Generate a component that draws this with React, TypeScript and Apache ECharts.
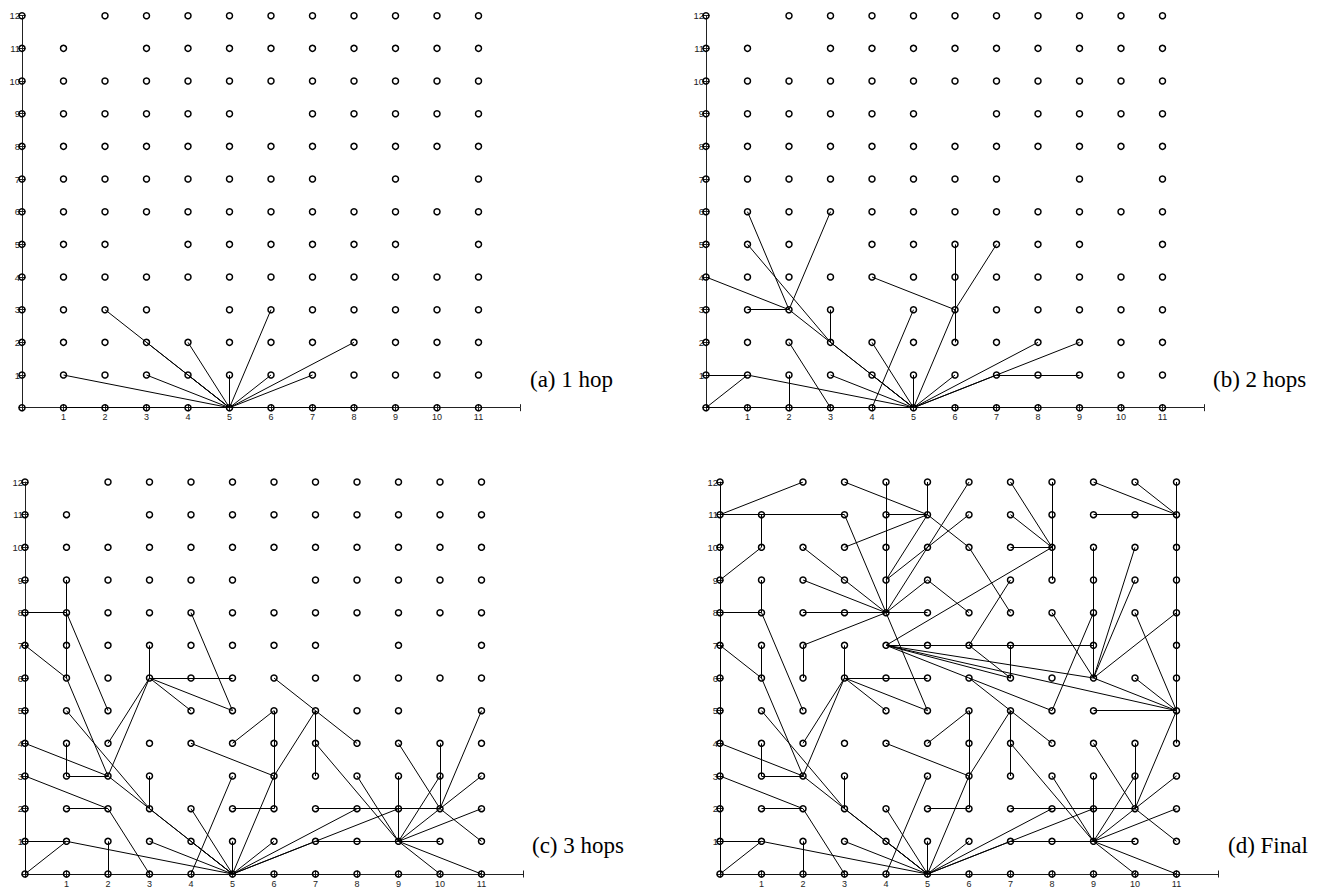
import React, { useEffect, useRef } from 'react';
import * as echarts from 'echarts';

// Grid points present, listed per row (index = y value), x columns present
const nodeRows: number[][] = [
  /* y=0  */ [0, 1, 2, 3, 4, 5, 6, 7, 8, 9, 10, 11],
  /* y=1  */ [0, 1, 2, 3, 4, 5, 6, 7, 8, 9, 10, 11],
  /* y=2  */ [0, 1, 2, 3, 4, 5, 6, 7, 8, 9, 10, 11],
  /* y=3  */ [0, 1, 2, 3, 5, 6, 7, 8, 9, 10, 11],
  /* y=4  */ [0, 1, 2, 3, 4, 5, 6, 7, 8, 9, 10, 11],
  /* y=5  */ [0, 1, 2, 4, 5, 6, 7, 8, 9, 11],
  /* y=6  */ [0, 1, 2, 3, 4, 5, 6, 7, 8, 9, 10, 11],
  /* y=7  */ [0, 1, 2, 3, 4, 5, 6, 7, 9, 11],
  /* y=8  */ [0, 1, 2, 3, 4, 5, 6, 7, 8, 9, 10, 11],
  /* y=9  */ [0, 1, 2, 3, 4, 5, 7, 8, 9, 10, 11],
  /* y=10 */ [0, 1, 2, 3, 4, 5, 6, 7, 8, 9, 10, 11],
  /* y=11 */ [0, 1, 3, 4, 5, 6, 7, 8, 9, 10, 11],
  /* y=12 */ [0, 2, 3, 4, 5, 6, 7, 8, 9, 10, 11],
];

const xTickLabels = ['1', '2', '3', '4', '5', '6', '7', '8', '9', '10', '11'];
const yTickLabels = ['1', '2', '3', '4', '5', '6', '7', '8', '9', '10', '11', '12'];

// Edges [x1, y1, x2, y2]
const edgesA: number[][] = [
  [5, 0, 1, 0], [5, 0, 8, 0],
  [5, 0, 1, 1], [5, 0, 2, 3], [5, 0, 3, 2], [5, 0, 4, 1], [5, 0, 3, 1],
  [5, 0, 4, 2], [5, 0, 5, 1], [5, 0, 6, 3], [5, 0, 6, 1], [5, 0, 7, 1], [5, 0, 8, 2],
];

const edgesB: number[][] = [
  [0, 0, 1, 0], [5, 0, 1, 0], [5, 0, 8, 0],
  [0, 0, 1, 1], [0, 1, 1, 1], [1, 1, 5, 0], [2, 0, 2, 1], [2, 2, 3, 0], [3, 1, 5, 0],
  [2, 3, 5, 0], [3, 2, 5, 0], [4, 1, 5, 0], [4, 2, 5, 0], [4, 0, 5, 3], [5, 1, 5, 0],
  [6, 1, 5, 0], [6, 3, 5, 0], [6, 5, 6, 3], [6, 4, 6, 3], [6, 3, 6, 2], [4, 4, 6, 3],
  [6, 3, 7, 5], [0, 4, 2, 3], [1, 3, 2, 3], [1, 6, 2, 3], [2, 3, 3, 6], [1, 5, 3, 2],
  [3, 2, 3, 3], [7, 1, 8, 1], [8, 1, 9, 1], [5, 0, 8, 2], [5, 0, 9, 2], [5, 0, 7, 1],
];

const edgesC: number[][] = [
  [0, 0, 1, 0], [5, 0, 1, 0], [5, 0, 8, 0], [0, 0, 0, 8],
  [0, 8, 1, 8], [1, 9, 1, 8], [1, 8, 1, 7], [1, 7, 1, 6], [1, 8, 2, 5], [4, 8, 5, 5],
  [3, 7, 3, 6], [0, 7, 1, 6], [3, 6, 5, 6], [3, 6, 4, 5], [3, 6, 5, 5], [3, 6, 2, 4],
  [3, 6, 2, 3], [1, 6, 2, 3], [1, 5, 3, 2], [0, 4, 2, 3], [1, 4, 1, 3], [1, 3, 2, 3],
  [3, 3, 3, 2], [0, 3, 2, 2], [1, 2, 2, 2], [2, 2, 3, 0], [0, 1, 1, 1], [0, 0, 1, 1],
  [1, 1, 5, 0], [2, 1, 2, 0], [3, 1, 5, 0], [2, 3, 5, 0], [3, 2, 5, 0], [4, 1, 5, 0],
  [4, 2, 5, 0], [5, 3, 4, 0], [4, 4, 6, 3], [5, 4, 6, 5], [5, 2, 6, 2], [5, 1, 5, 0],
  [6, 1, 5, 0], [6, 3, 5, 0],
  [6, 2, 6, 5], [6, 3, 7, 5], [6, 6, 7, 5], [7, 5, 8, 4], [7, 5, 7, 3], [7, 4, 9, 1],
  [8, 3, 9, 1], [7, 2, 10, 2], [9, 3, 9, 1], [9, 4, 10, 2], [10, 4, 10, 2], [10, 3, 9, 1],
  [11, 5, 10, 2], [9, 1, 11, 3], [11, 2, 9, 1], [10, 2, 11, 1], [7, 1, 10, 1],
  [9, 1, 10, 0], [9, 1, 11, 0], [5, 0, 8, 2], [5, 0, 9, 2], [5, 0, 7, 1],
];

const edgesDRemoved: number[][] = [[1, 8, 1, 7]];

const edgesDExtra: number[][] = [
  [0, 0, 0, 12],
  [0, 11, 2, 12], [0, 11, 3, 11], [1, 11, 1, 10], [1, 10, 0, 9],
  [2, 10, 4, 8], [2, 9, 4, 8], [2, 8, 4, 8], [4, 8, 5, 8], [2, 7, 4, 8], [2, 7, 2, 6],
  [3, 11, 4, 8], [4, 12, 4, 8], [4, 11, 5, 11], [3, 12, 5, 11], [5, 12, 5, 11],
  [3, 10, 5, 11], [4, 9, 5, 11], [4, 9, 6, 11], [4, 8, 6, 12], [4, 8, 5, 9],
  [5, 11, 6, 10], [6, 10, 7, 8], [5, 9, 6, 8], [7, 9, 6, 7], [7, 12, 8, 10],
  [7, 11, 8, 10], [7, 10, 8, 10], [8, 12, 8, 9], [4, 7, 8, 10],
  [9, 12, 11, 11], [10, 12, 11, 11], [9, 11, 11, 11], [11, 12, 11, 4],
  [9, 10, 9, 6], [10, 10, 9, 6], [10, 9, 9, 6], [10, 8, 11, 5], [11, 8, 9, 6], [8, 8, 9, 6],
  [4, 7, 9, 7], [6, 7, 7, 6], [7, 7, 7, 6],
  [4, 7, 6, 6], [4, 7, 7, 6], [4, 7, 9, 6], [4, 7, 11, 5],
  [6, 6, 8, 5], [8, 5, 9, 8], [9, 5, 11, 5], [10, 6, 11, 5], [9, 6, 11, 5],
];

const captions = ['(a) 1 hop', '(b) 2 hops', '(c) 3 hops', '(d) Final'];

const sameEdge = (a: number[], b: number[]) => a.every((v, i) => v === b[i]);
const edgesD = edgesC.filter((e) => !edgesDRemoved.some((r) => sameEdge(r, e))).concat(edgesDExtra);

const panels = [
  { edges: edgesA, left: 22, top: 15.7, capX: 530, capY: 379 },
  { edges: edgesB, left: 706, top: 15.7, capX: 1213, capY: 379 },
  { edges: edgesC, left: 25, top: 482, capX: 532, capY: 845 },
  { edges: edgesD, left: 720, top: 482, capX: 1228, capY: 845 },
];

const GRID_W = 498;
const GRID_H = 392;

export default function App() {
  const ref = useRef<HTMLDivElement>(null);

  useEffect(() => {
    if (!ref.current) return;
    const chart = echarts.init(ref.current, undefined, { renderer: 'svg' });

    const nodes: number[][] = [];
    nodeRows.forEach((cols, y) => cols.forEach((x) => nodes.push([x, y])));

    const axisColor = '#222';
    const mainX = panels.map((_, i) => ({
      type: 'value',
      gridIndex: i,
      min: 0,
      max: 12,
      interval: 1,
      position: 'bottom',
      axisLine: { show: true, onZero: false, lineStyle: { color: axisColor, width: 1 } },
      axisTick: { show: true, length: 3.5, lineStyle: { color: axisColor, width: 1 } },
      axisLabel: {
        show: true,
        fontSize: 9,
        color: '#222',
        margin: 5,
        fontFamily: 'Liberation Sans',
        formatter: (v: number) => (xTickLabels.includes(String(v)) ? String(v) : ''),
      },
      splitLine: { show: false },
    }));
    const dupX = panels.map((_, i) => ({
      type: 'value',
      gridIndex: i,
      min: 0,
      max: 12,
      interval: 1,
      position: 'bottom',
      axisLine: { show: false, onZero: false },
      axisTick: { show: true, inside: true, length: 3.5, lineStyle: { color: axisColor, width: 1 } },
      axisLabel: { show: false },
      splitLine: { show: false },
    }));
    const mainY = panels.map((_, i) => ({
      type: 'value',
      gridIndex: i,
      min: 0,
      max: 12,
      interval: 1,
      position: 'left',
      axisLine: { show: true, onZero: false, lineStyle: { color: axisColor, width: 1 } },
      axisTick: { show: true, length: 3.5, lineStyle: { color: axisColor, width: 1 } },
      axisLabel: {
        show: true,
        fontSize: 9.5,
        color: '#222',
        margin: 2,
        fontFamily: 'Liberation Sans',
        formatter: (v: number) => (yTickLabels.includes(String(v)) ? String(v) : ''),
      },
      splitLine: { show: false },
    }));
    const dupY = panels.map((_, i) => ({
      type: 'value',
      gridIndex: i,
      min: 0,
      max: 12,
      interval: 1,
      position: 'left',
      axisLine: { show: false, onZero: false },
      axisTick: { show: true, inside: true, length: 3.5, lineStyle: { color: axisColor, width: 1 } },
      axisLabel: { show: false },
      splitLine: { show: false },
    }));

    const series: any[] = [];
    panels.forEach((p, i) => {
      series.push({
        type: 'lines',
        coordinateSystem: 'cartesian2d',
        xAxisIndex: i,
        yAxisIndex: i,
        silent: true,
        z: 2,
        lineStyle: { color: '#000', width: 1, opacity: 1, curveness: 0 },
        data: p.edges.map((e) => ({ coords: [[e[0], e[1]], [e[2], e[3]]] })),
      });
      series.push({
        type: 'scatter',
        xAxisIndex: i,
        yAxisIndex: i,
        silent: true,
        z: 3,
        symbol: 'circle',
        symbolSize: 6,
        itemStyle: { color: 'rgba(255,255,255,0)', borderColor: '#000', borderWidth: 1.5, opacity: 1 },
        data: nodes,
      });
    });

    chart.setOption({
      animation: false,
      backgroundColor: '#ffffff',
      grid: panels.map((p) => ({ left: p.left, top: p.top, width: GRID_W, height: GRID_H })),
      xAxis: [...mainX, ...dupX],
      yAxis: [...mainY, ...dupY],
      series,
      graphic: panels.map((p, i) => ({
        type: 'text',
        x: p.capX,
        y: p.capY,
        style: {
          text: captions[i],
          fontSize: 23,
          fontFamily: 'Liberation Serif',
          fill: '#000',
          align: 'left',
          verticalAlign: 'middle',
        },
      })),
    });

    return () => chart.dispose();
  }, []);

  return (
    <div
      ref={ref}
      style={{ position: 'absolute', left: 0, top: 0, width: 1341, height: 894, background: '#fff' }}
    />
  );
}
